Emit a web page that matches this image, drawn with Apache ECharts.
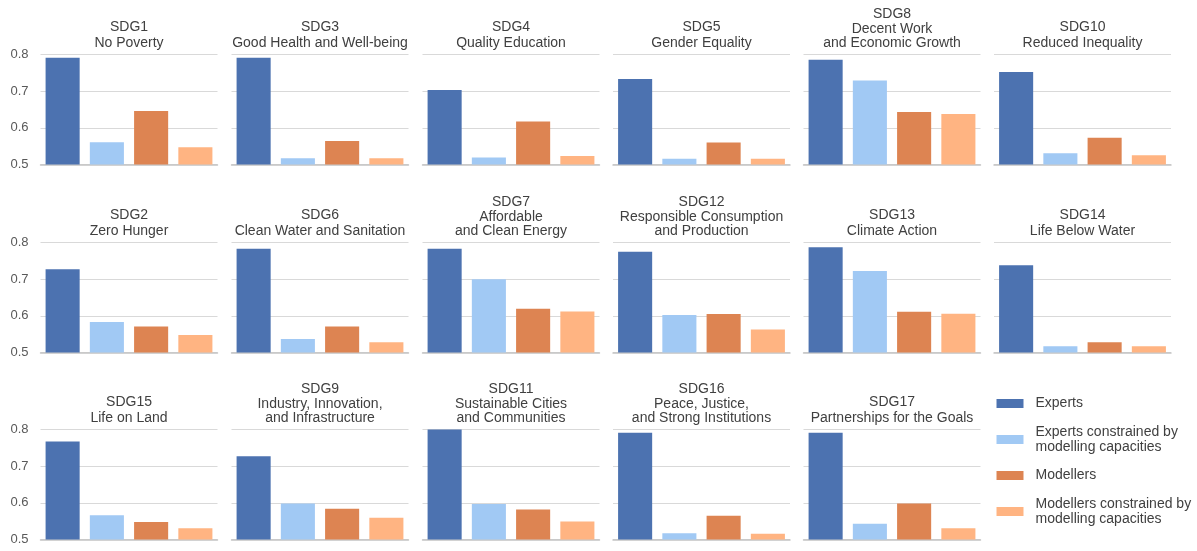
<!DOCTYPE html>
<html>
<head>
<meta charset="utf-8">
<script src="https://cdn.jsdelivr.net/npm/echarts@6/dist/echarts.min.js"></script>
<style>
  html, body { margin: 0; padding: 0; background: #ffffff; }
  #chart { width: 1197px; height: 551px; }
</style>
</head>
<body>
<div id="chart"></div>
<script>
// Panel titles, row by row
const panelTitles = [
  'SDG1\nNo Poverty', 'SDG3\nGood Health and Well-being', 'SDG4\nQuality Education',
  'SDG5\nGender Equality', 'SDG8\nDecent Work\nand Economic Growth', 'SDG10\nReduced Inequality',
  'SDG2\nZero Hunger', 'SDG6\nClean Water and Sanitation', 'SDG7\nAffordable\nand Clean Energy',
  'SDG12\nResponsible Consumption\nand Production', 'SDG13\nClimate Action', 'SDG14\nLife Below Water',
  'SDG15\nLife on Land', 'SDG9\nIndustry, Innovation,\nand Infrastructure', 'SDG11\nSustainable Cities\nand Communities',
  'SDG16\nPeace, Justice,\nand Strong Institutions', 'SDG17\nPartnerships for the Goals'
];

const groupNames = [
  'Experts',
  'Experts constrained by\nmodelling capacities',
  'Modellers',
  'Modellers constrained by\nmodelling capacities'
];

const experts              = [0.791, 0.791, 0.703, 0.733, 0.786, 0.752, 0.727, 0.783, 0.783, 0.775, 0.787, 0.738, 0.767, 0.727, 0.800, 0.791, 0.791];
const expertsConstrained   = [0.561, 0.517, 0.519, 0.516, 0.729, 0.531, 0.583, 0.537, 0.700, 0.602, 0.722, 0.517, 0.566, 0.598, 0.597, 0.517, 0.543];
const modellers            = [0.646, 0.564, 0.617, 0.560, 0.643, 0.573, 0.571, 0.571, 0.619, 0.605, 0.611, 0.528, 0.548, 0.584, 0.582, 0.565, 0.598];
const modellersConstrained = [0.547, 0.517, 0.523, 0.516, 0.638, 0.525, 0.548, 0.528, 0.612, 0.563, 0.606, 0.517, 0.531, 0.559, 0.549, 0.516, 0.531];

const yTicks = { min: 0.5, max: 0.8, interval: 0.1 };

const groupColors = ['#4c72b0', '#a1c9f4', '#dd8452', '#ffb482'];
const groupValues = [experts, expertsConstrained, modellers, modellersConstrained];

// Small-multiple layout
const colLeft = [40.5, 231.5, 422.5, 613, 803.5, 994];
const rowTop = [54.5, 242.5, 429.5];
const panelW = 177;
const panelH = 110;
const fontFamily = '"Liberation Sans", Arial, sans-serif';

const grid = [], xAxis = [], yAxis = [], series = [], graphics = [];

panelTitles.forEach((title, p) => {
  const r = Math.floor(p / 6), c = p % 6;
  const left = colLeft[c], top = rowTop[r];
  grid.push({ left: left, top: top, width: panelW, height: panelH });
  xAxis.push({
    type: 'category', gridIndex: p, data: groupNames,
    axisLine: { show: true, lineStyle: { color: '#c4c4c4', width: 1.5 } },
    axisTick: { show: false }, axisLabel: { show: false }
  });
  yAxis.push({
    type: 'value', gridIndex: p, min: yTicks.min, max: yTicks.max, interval: yTicks.interval,
    axisLine: { show: false }, axisTick: { show: false },
    splitLine: { lineStyle: { color: '#d9d9d9', width: 1 } },
    axisLabel: {
      show: c === 0, color: '#595959', fontSize: 13, margin: 12, fontFamily: fontFamily,
      formatter: v => v.toFixed(1)
    }
  });
  groupNames.forEach((name, k) => {
    const data = groupNames.map((_, j) => (j === k ? groupValues[k][p] : '-'));
    series.push({
      type: 'bar', name: name, xAxisIndex: p, yAxisIndex: p,
      data: data, barGap: '-100%', barCategoryGap: '23%',
      itemStyle: { color: groupColors[k] }, silent: true, animation: false
    });
  });
  const lines = title.split('\n').length;
  graphics.push({
    type: 'text',
    x: left + panelW / 2, y: top - 4,
    silent: true,
    style: {
      text: title, fill: '#404040', font: '14px ' + fontFamily,
      lineHeight: lines > 2 ? 14.4 : 15.5,
      textAlign: 'center', align: 'center',
      textVerticalAlign: 'bottom', verticalAlign: 'bottom'
    }
  });
});

const chart = echarts.init(document.getElementById('chart'), null, { renderer: 'canvas' });
chart.setOption({
  backgroundColor: '#ffffff',
  animation: false,
  grid, xAxis, yAxis, series,
  legend: {
    data: groupNames, orient: 'vertical', left: 996.5, top: 396,
    padding: 0, itemWidth: 27, itemHeight: 9, itemGap: 13.5, icon: 'rect',
    selectedMode: false,
    textStyle: { color: '#404040', fontSize: 14, lineHeight: 15, fontFamily: fontFamily, padding: [0, 0, 0, 7] }
  },
  graphic: graphics
});
</script>
</body>
</html>
